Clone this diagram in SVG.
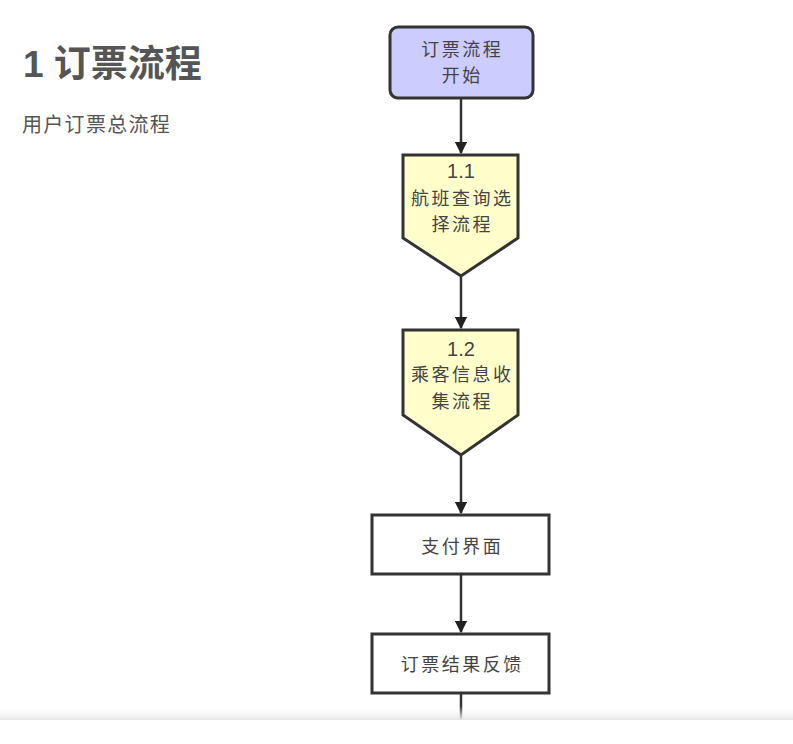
<svg xmlns="http://www.w3.org/2000/svg" width="793" height="744" viewBox="0 0 793 744">
<defs>
<style>
.t{font-family:"Liberation Sans","Noto Sans CJK SC",sans-serif;fill:#555;}
.n{font-family:"Noto Sans CJK SC","Liberation Sans",sans-serif;fill:#444;font-size:18px;letter-spacing:2.5px;text-anchor:middle;}
.num{font-family:"Liberation Sans","Noto Sans CJK SC",sans-serif;fill:#444;font-size:20px;text-anchor:middle;}
.box{stroke:#333;stroke-width:3;}
.edge{stroke:#333;stroke-width:2.5;fill:none;marker-end:url(#ah);}
</style>
<marker id="ah" viewBox="0 0 10 10" refX="9" refY="5" markerWidth="5" markerHeight="5" orient="auto" markerUnits="strokeWidth">
<path d="M0,0 L10,5 L0,10 z" fill="#222"/>
</marker>
<linearGradient id="shade" x1="0" y1="0" x2="0" y2="1">
<stop offset="0" stop-color="#ffffff" stop-opacity="0"/>
<stop offset="1" stop-color="#e6e6e6"/>
</linearGradient>
</defs>
<rect width="793" height="744" fill="#ffffff"/>
<text class="t" x="23" y="77" font-size="37" font-weight="bold">1 订票流程</text>
<text class="t" x="22" y="132" font-size="20" letter-spacing="1.3">用户订票总流程</text>
<g id="connectors">
<path class="edge" d="M461,99 V153"/>
<path class="edge" d="M461,277 V328"/>
<path class="edge" d="M461,456 V513"/>
<path class="edge" d="M461,575 V632"/>
<path d="M461,694 V720" stroke="#333" stroke-width="2.5"/>
</g>
<g id="start">
<rect class="box" x="390" y="27" width="143" height="71" rx="8" fill="#ccccff"/>
<text class="n" x="462.25" y="56">订票流程</text>
<text class="n" x="462.25" y="82">开始</text>
</g>
<g id="n11">
<path class="box" d="M403,155 H518 V238 L461,276 L403,238 Z" fill="#ffffcc"/>
<text class="num" x="461" y="178">1.1</text>
<text class="n" x="462.25" y="205">航班查询选</text>
<text class="n" x="462.25" y="231">择流程</text>
</g>
<g id="n12">
<path class="box" d="M403,330 H518 V415 L461,455 L403,415 Z" fill="#ffffcc"/>
<text class="num" x="461" y="356">1.2</text>
<text class="n" x="462.25" y="381">乘客信息收</text>
<text class="n" x="462.25" y="408">集流程</text>
</g>
<g id="pay">
<rect class="box" x="372" y="515" width="177" height="59" fill="#ffffff"/>
<text class="n" x="462.25" y="553">支付界面</text>
</g>
<g id="result">
<rect class="box" x="372" y="634" width="177" height="59" fill="#ffffff"/>
<text class="n" x="462.25" y="671">订票结果反馈</text>
</g>
<rect x="0" y="706" width="793" height="14" fill="url(#shade)"/>
<rect x="0" y="720" width="793" height="24" fill="#ffffff"/>
</svg>
